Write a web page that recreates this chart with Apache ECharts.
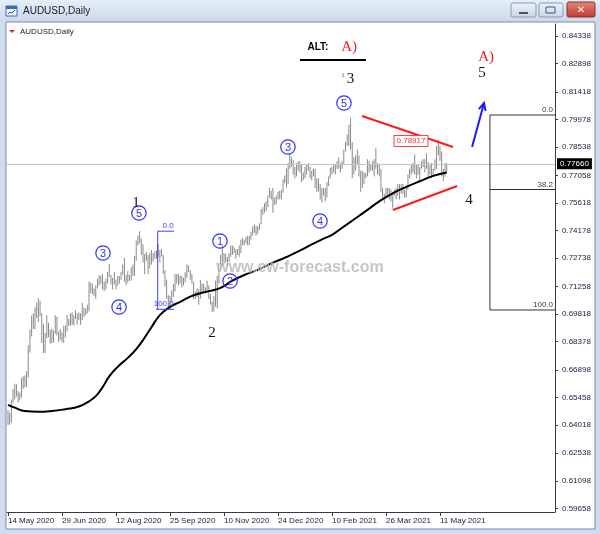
<!DOCTYPE html>
<html><head><meta charset="utf-8">
<script src="https://cdn.jsdelivr.net/npm/echarts@6/dist/echarts.min.js"></script>
<style>html,body{margin:0;padding:0;background:#cddcee;}#c{width:600px;height:534px;}</style>
</head><body><div id="c"></div>
<script>
// ---------- data ----------
const tickIndex = [0, 32, 64, 96, 128, 160, 192, 224, 256];
const tickLabels = ['14 May 2020','29 Jun 2020','12 Aug 2020','25 Sep 2020','10 Nov 2020','24 Dec 2020','10 Feb 2021','26 Mar 2021','11 May 2021'];
const priceTicks = [0.59658,0.61098,0.62538,0.64018,0.65458,0.66898,0.68378,0.69818,0.71258,0.72738,0.74178,0.75618,0.77058,0.78538,0.79978,0.81418,0.82898,0.84338];
const highs = [
.6480,.6466,.6534,.6590,.6617,.6614,.6578,.6570,.6648,.6656,
.6660,.6683,.6818,.6900,.6973,.6985,.7016,.7040,.7064,.7050,
.6985,.6930,.6883,.6976,.6935,.6900,.6905,.6895,.6975,.6967,
.6890,.6903,.6885,.6920,.6920,.6977,.6955,.6985,.6990,.6975,
.7000,.6985,.6990,.6985,.7040,.7015,.7010,.7030,.7150,.7145,
.7140,.7115,.7130,.7165,.7185,.7180,.7190,.7150,.7165,.7200,
.7242,.7185,.7170,.7200,.7160,.7180,.7180,.7200,.7240,.7275,
.7185,.7205,.7185,.7225,.7240,.7285,.7365,.7390,.7414,.7375,
.7345,.7295,.7305,.7290,.7300,.7315,.7300,.7310,.7315,.7345,
.7315,.7320,.7290,.7210,.7160,.7080,.7075,.7105,.7140,.7190,
.7190,.7190,.7180,.7180,.7170,.7200,.7240,.7235,.7210,.7190,
.7150,.7100,.7115,.7110,.7160,.7140,.7140,.7120,.7155,.7130,
.7085,.7045,.7075,.7155,.7180,.7250,.7290,.7340,.7300,.7295,
.7280,.7300,.7340,.7340,.7330,.7320,.7320,.7340,.7370,.7380,
.7370,.7385,.7390,.7390,.7410,.7440,.7450,.7440,.7440,.7455,
.7530,.7540,.7560,.7570,.7600,.7640,.7625,.7640,.7590,.7600,
.7620,.7625,.7630,.7685,.7705,.7742,.7770,.7820,.7800,.7785,
.7750,.7770,.7780,.7780,.7760,.7720,.7750,.7760,.7770,.7750,
.7730,.7740,.7740,.7690,.7690,.7660,.7640,.7640,.7640,.7670,
.7700,.7745,.7750,.7760,.7760,.7780,.7800,.7770,.7780,.7840,
.7880,.7920,.7970,.8007,.7880,.7800,.7810,.7840,.7810,.7730,
.7730,.7720,.7720,.7790,.7780,.7760,.7780,.7790,.7850,.7770,
.7760,.7740,.7640,.7610,.7640,.7640,.7640,.7630,.7620,.7630,
.7640,.7660,.7660,.7660,.7660,.7630,.7640,.7710,.7740,.7760,
.7770,.7815,.7760,.7760,.7750,.7780,.7790,.7790,.7820,.7775,
.7760,.7770,.7740,.7790,.7860,.7891,.7860,.7830,.7740,.7770,
.7770];
const lows = [
.6402,.6403,.6414,.6518,.6535,.6550,.6519,.6530,.6545,.6590,
.6597,.6600,.6649,.6780,.6864,.6903,.6901,.6960,.6940,.6970,
.6830,.6777,.6776,.6855,.6860,.6826,.6830,.6833,.6877,.6870,
.6834,.6845,.6833,.6831,.6859,.6890,.6920,.6920,.6925,.6920,
.6955,.6925,.6950,.6925,.6950,.6965,.6975,.6985,.6995,.7090,
.7085,.7075,.7060,.7115,.7130,.7140,.7110,.7100,.7110,.7140,
.7175,.7135,.7110,.7135,.7110,.7130,.7140,.7160,.7185,.7150,
.7130,.7145,.7155,.7155,.7180,.7180,.7260,.7340,.7350,.7290,
.7250,.7190,.7260,.7190,.7220,.7240,.7255,.7270,.7270,.7280,
.7250,.7280,.7190,.7125,.7060,.7020,.7006,.7040,.7070,.7100,
.7140,.7130,.7140,.7120,.7130,.7145,.7170,.7200,.7160,.7140,
.7060,.7060,.7070,.7030,.7060,.7090,.7095,.7090,.7095,.7060,
.7030,.6991,.6995,.7020,.7010,.7140,.7220,.7220,.7240,.7250,
.7230,.7250,.7280,.7290,.7300,.7270,.7290,.7280,.7300,.7340,
.7340,.7350,.7340,.7340,.7370,.7390,.7405,.7390,.7400,.7420,
.7450,.7500,.7510,.7520,.7540,.7590,.7580,.7510,.7550,.7555,
.7580,.7580,.7580,.7615,.7665,.7642,.7660,.7740,.7750,.7710,
.7690,.7700,.7730,.7720,.7670,.7680,.7690,.7710,.7730,.7690,
.7680,.7700,.7640,.7620,.7620,.7580,.7564,.7600,.7570,.7590,
.7650,.7690,.7710,.7720,.7710,.7740,.7740,.7720,.7740,.7760,
.7830,.7860,.7860,.7840,.7690,.7710,.7730,.7760,.7700,.7620,
.7640,.7660,.7690,.7700,.7720,.7730,.7730,.7700,.7740,.7710,
.7700,.7620,.7580,.7560,.7590,.7600,.7580,.7570,.7532,.7600,
.7580,.7600,.7580,.7610,.7610,.7590,.7590,.7630,.7690,.7710,
.7720,.7710,.7690,.7710,.7670,.7740,.7750,.7720,.7740,.7700,
.7710,.7690,.7700,.7730,.7740,.7810,.7780,.7700,.7675,.7700,
.7720];
const maIndex  = [0,4,10,18,26,34,42,48,52,56,60,65,71,76,80,85,90,96,102,108,114,120,126,133,140,148,156,165,172,180,187,192,198,205,213,220,228,236,244,252,260];
const maValues = [0.6506,0.6492,0.6474,0.6470,0.6474,0.6484,0.6498,0.6525,0.6552,0.6598,0.6655,0.6705,0.6752,0.6798,0.6845,0.6912,0.6975,0.7018,0.7045,0.7072,0.7090,0.7102,0.7118,0.7155,0.7185,0.7212,0.7245,0.7279,0.7308,0.7345,0.7375,0.7395,0.7432,0.7475,0.7525,0.7570,0.7612,0.7645,0.7675,0.7703,0.7720];
const lastPrice = 0.77660;
const markedHigh = 0.78917;

// ---------- annotation geometry (data coordinates) ----------
const triangleLines = [[[209.8,0.80158],[263.7,0.78538]], [[228.1,0.75246],[266.1,0.76500]]];
const fibLeftLines = [[[88.7,0.7414],[88.7,0.7006]], [[88.7,0.7414],[98.4,0.7414]], [[87.7,0.7006],[98.4,0.7006]]];
const fibLeftTexts = [{t:'0.0', i:98.2, p:0.7414}, {t:'100.0', i:98.2, p:0.7006}];
const fibRightLines = [[[285.6,0.8021],[285.6,0.70021]], [[285.6,0.8021],[324.2,0.8021]], [[285.6,0.76317],[324.2,0.76317]], [[285.6,0.70021],[324.2,0.70021]]];
const fibRightTexts = [{t:'0.0', p:0.8021}, {t:'38.2', p:0.76317}, {t:'100.0', p:0.70021}];
const circled = [
  {n:'3', i:56.3, p:0.72999}, {n:'5', i:77.6, p:0.75090}, {n:'4', i:65.8, p:0.70178},
  {n:'1', i:125.6, p:0.73626}, {n:'2', i:131.6, p:0.71536}, {n:'3', i:165.9, p:0.78538},
  {n:'4', i:184.9, p:0.74671}, {n:'5', i:199.1, p:0.80837}
];
const serifLabels = [
  {t:'1', i:75.9, p:0.75612, c:'#111'}, {t:'2', i:120.9, p:0.68819, c:'#111'},
  {t:'3', i:202.9, p:0.82091, c:'#111'}, {t:'4', i:273.2, p:0.75769, c:'#111'},
  {t:'5', i:280.9, p:0.82405, c:'#111'}, {t:'A)', i:283.3, p:0.83241, c:'#ee2222'},
  {t:'A)', i:202.1, p:0.83763, c:'#ee2222'}
];
const altLabel = {i:183.7, p:0.83763};
const altLine = [[173.0,0.83084],[212.1,0.83084]];
const redTick = {i:198.5, p:0.82300};
const arrowLine = [[275.0,0.78538],[282.1,0.80837]];
const priceBoxPos = {i:238.8, p:0.78852};
const watermarkPos = {i:173.0, p:0.72216};

// ---------- chart ----------
const chart = echarts.init(document.getElementById('c'), null, {renderer:'canvas', width:600, height:534});
const FONT = 'Liberation Sans, Arial, sans-serif';
const AX = '#3a3a3a';

function segSeries(pts, color, width, z) {
  return {type:'line', data:pts, symbol:'none', silent:true, z:z||4, animation:false,
          lineStyle:{color:color, width:width}};
}
const series = [
  {type:'custom', name:'bars', z:2, silent:true,
   data: highs.map((h, i) => [i, lows[i], h]),
   encode:{x:0, y:[1,2]},
   renderItem: (params, api) => {
     const x = api.value(0);
     const lo = api.coord([x, api.value(1)]);
     const hi = api.coord([x, api.value(2)]);
     return {type:'line', shape:{x1:lo[0], y1:lo[1], x2:hi[0], y2:hi[1]}, style:{stroke:'#8a8a8a', lineWidth:1}};
   }},
  {type:'line', name:'ma', z:3, smooth:true, symbol:'none', silent:true,
   data: maIndex.map((x, k) => [x, maValues[k]]),
   lineStyle:{color:'#000', width:2}},
  {type:'line', name:'price', data:[], z:1,
   markLine:{silent:true, symbol:'none', animation:false, precision:5,
     data:[{yAxis:lastPrice}],
     lineStyle:{color:'#c4c4c4', width:1, type:'solid'},
     label:{position:'end', distance:2, formatter: () => lastPrice.toFixed(5), color:'#fff', backgroundColor:'#000',
            fontFamily:FONT, fontSize:8, padding:[2,3,1,3]}}}
];
triangleLines.forEach(l => series.push(segSeries(l, '#ff1a1a', 2, 5)));
fibLeftLines.forEach(l => series.push(segSeries(l, '#3c3cff', 1, 5)));
fibRightLines.forEach(l => series.push(segSeries(l, '#333333', 1, 5)));
series.push(segSeries(altLine, '#000', 2, 5));
series.push(segSeries(arrowLine, '#1a1aff', 2, 6));

chart.setOption({
  animation:false,
  backgroundColor:'#cddcee',
  grid:{left:7, right:45, top:24, bottom:22, containLabel:false},
  xAxis:{type:'value', min:-0.593, max:324.15,
    axisLine:{show:true, onZero:false, lineStyle:{color:AX}},
    axisTick:{show:true, customValues:tickIndex, length:4, lineStyle:{color:AX}},
    axisLabel:{show:true, customValues:tickIndex, formatter: v => tickLabels[tickIndex.indexOf(Math.round(v))] || '',
      align:'left', margin:5, fontFamily:FONT, fontSize:8, color:'#1b1b3c'},
    splitLine:{show:false}},
  yAxis:{type:'value', position:'right', min:0.594661, max:0.84965, scale:true,
    axisLine:{show:true, onZero:false, lineStyle:{color:AX}},
    axisTick:{show:true, customValues:priceTicks, length:3, lineStyle:{color:AX}},
    axisLabel:{show:true, customValues:priceTicks, formatter: v => v.toFixed(5), margin:7,
      fontFamily:FONT, fontSize:8, color:'#1b1b3c'},
    splitLine:{show:false}},
  series: series
});

// ---------- graphic annotations ----------
const px = (i, p) => chart.convertToPixel({gridIndex:0}, [i, p]);
const g = [];
// window chrome
g.push({type:'rect', z:-100, shape:{x:6, y:22, width:589, height:507}, style:{fill:'#fff', stroke:'#7d8a99', lineWidth:1}});
g.push({type:'rect', z:-100, shape:{x:0, y:0, width:600, height:21},
  style:{fill:new echarts.graphic.LinearGradient(0,0,0,1,[{offset:0,color:'#e6eef8'},{offset:1,color:'#cad9eb'}])}});
g.push({type:'rect', z:-99, shape:{x:6, y:6, width:11, height:10}, style:{fill:'#f4f8fd', stroke:'#3d6eb3', lineWidth:1}});
g.push({type:'rect', z:-99, shape:{x:6, y:6, width:11, height:3}, style:{fill:'#3d6eb3'}});
g.push({type:'polyline', z:-98, shape:{points:[[8,14],[10,12],[12,13],[15,10]]}, style:{stroke:'#2a5aa0', lineWidth:1, fill:null}});
g.push({type:'text', z:-99, x:23, y:11, style:{text:'AUDUSD,Daily', font:'10px '+FONT, fill:'#1a1a1a', verticalAlign:'middle'}});
// buttons
g.push({type:'rect', z:-99, shape:{x:511, y:3, width:25, height:14, r:2},
  style:{fill:new echarts.graphic.LinearGradient(0,0,0,1,[{offset:0,color:'#eef3fa'},{offset:1,color:'#c7d5e7'}]), stroke:'#8c9db3'}});
g.push({type:'rect', z:-98, shape:{x:519, y:12, width:9, height:2}, style:{fill:'#44576f'}});
g.push({type:'rect', z:-99, shape:{x:539, y:3, width:24, height:14, r:2},
  style:{fill:new echarts.graphic.LinearGradient(0,0,0,1,[{offset:0,color:'#eef3fa'},{offset:1,color:'#c7d5e7'}]), stroke:'#8c9db3'}});
g.push({type:'rect', z:-98, shape:{x:546, y:7, width:9, height:6}, style:{fill:'none', stroke:'#44576f', lineWidth:1}});
g.push({type:'rect', z:-99, shape:{x:567, y:2, width:28, height:15, r:2},
  style:{fill:new echarts.graphic.LinearGradient(0,0,0,1,[{offset:0,color:'#e28a80'},{offset:1,color:'#c0392f'}]), stroke:'#8a2e28'}});
g.push({type:'text', z:-98, x:581, y:10, style:{text:'✕', font:'bold 10px DejaVu Sans', fill:'#fff', align:'center', verticalAlign:'middle'}});
// chart caption
g.push({type:'polygon', z:10, shape:{points:[[9,30],[15,30],[12,33]]}, style:{fill:'#c0392b'}});
g.push({type:'text', z:10, x:20, y:32, style:{text:'AUDUSD,Daily', font:'8px '+FONT, fill:'#1a1a1a', verticalAlign:'middle'}});

// fib texts
fibLeftTexts.forEach(f => { const q = px(f.i, f.p);
  g.push({type:'text', z:10, x:q[0], y:q[1]-1, style:{text:f.t, font:'8px '+FONT, fill:'#3c3cff', align:'right', verticalAlign:'bottom'}}); });
fibRightTexts.forEach(f => { const q = px(0, f.p);
  g.push({type:'text', z:10, x:553, y:q[1]-1, style:{text:f.t, font:'8px '+FONT, fill:'#4a4020', align:'right', verticalAlign:'bottom'}}); });
// circled wave labels
circled.forEach(c => { const q = px(c.i, c.p);
  g.push({type:'circle', z:10, shape:{cx:q[0], cy:q[1], r:7.2}, style:{fill:'none', stroke:'#3030ff', lineWidth:1.2}});
  g.push({type:'text', z:10, x:q[0], y:q[1]+0.5, style:{text:c.n, font:'11px '+FONT, fill:'#3030ff', align:'center', verticalAlign:'middle'}}); });
// serif labels
serifLabels.forEach(s => { const q = px(s.i, s.p);
  g.push({type:'text', z:10, x:q[0], y:q[1], style:{text:s.t, font:'15px Liberation Serif, Times New Roman, serif', fill:s.c, align:'center', verticalAlign:'middle'}}); });
{ const q = px(redTick.i, redTick.p);
  g.push({type:'text', z:10, x:q[0], y:q[1], style:{text:'1', font:'7px Liberation Serif, serif', fill:'#dd2222', align:'center', verticalAlign:'middle'}}); }
{ const q = px(altLabel.i, altLabel.p);
  g.push({type:'text', z:10, x:q[0], y:q[1], style:{text:'ALT:', font:'bold 10px '+FONT, fill:'#000', align:'center', verticalAlign:'middle'}}); }
// arrow head
{ const a = px(arrowLine[0][0], arrowLine[0][1]); const b = px(arrowLine[1][0], arrowLine[1][1]);
  const ang = Math.atan2(b[1]-a[1], b[0]-a[0]); const L = 8, w = 0.45;
  const p1 = [b[0]-L*Math.cos(ang-w), b[1]-L*Math.sin(ang-w)];
  const p2 = [b[0]-L*Math.cos(ang+w), b[1]-L*Math.sin(ang+w)];
  g.push({type:'polyline', z:10, shape:{points:[p1, b, p2]}, style:{stroke:'#1a1aff', lineWidth:2, fill:null}}); }
// marked high box
{ const q = px(priceBoxPos.i, priceBoxPos.p);
  g.push({type:'text', z:10, x:q[0], y:q[1], style:{text:markedHigh.toFixed(5), font:'8px '+FONT, fill:'#ff2a2a', align:'center', verticalAlign:'middle',
    backgroundColor:'#fff', borderColor:'#ff4040', borderWidth:1, padding:[1,2,1,2]}}); }
// watermark
{ const q = px(watermarkPos.i, watermarkPos.p);
  g.push({type:'text', z:20, x:q[0], y:q[1], style:{text:'www.ew-forecast.com', font:'bold 16px '+FONT, fill:'rgba(150,150,150,0.55)',
    stroke:'rgba(255,255,255,0.7)', lineWidth:1, align:'center', verticalAlign:'middle'}}); }

chart.setOption({graphic: g});
</script></body></html>
